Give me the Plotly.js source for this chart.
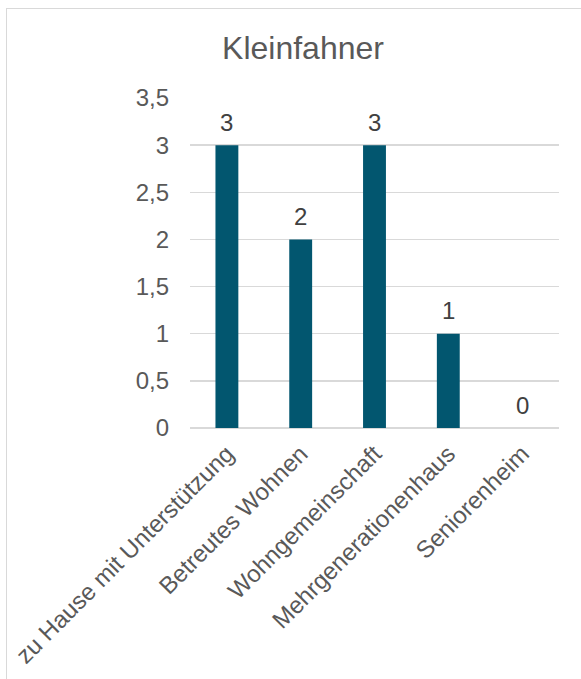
<!DOCTYPE html>
<html>
<head>
<meta charset="utf-8">
<script src="https://cdn.plot.ly/plotly-3.0.1.min.js"></script>
<style>
  html, body { margin: 0; padding: 0; background: #ffffff; }
  #frame { position: absolute; left: 6px; top: 8px; width: 700px; height: 800px;
           border-left: 1.5px solid #d9d9d9; border-top: 1.5px solid #d9d9d9; }
  #chart { position: absolute; left: 0; top: 0; width: 581px; height: 679px; }
</style>
</head>
<body>
<div id="frame"></div>
<div id="chart"></div>
<script>
const chartTitle = "Kleinfahner";
const categories = ["zu Hause mit Unterstützung", "Betreutes Wohnen", "Wohngemeinschaft", "Mehrgenerationenhaus", "Seniorenheim"];
const values = [3, 2, 3, 1, 0];
const yTickVals = [0, 0.5, 1, 1.5, 2, 2.5, 3, 3.5];

const fontFamily = "Liberation Sans, Arial, sans-serif";

const trace = {
  type: "bar",
  x: categories,
  y: values,
  marker: { color: "#02566F" },
  width: 0.31,
  hoverinfo: "skip"
};

const annotations = categories.map((c, i) => ({
  x: c, y: values[i], xref: "x", yref: "y",
  text: String(values[i]),
  showarrow: false,
  yanchor: "middle",
  yshift: 23,
  font: { family: fontFamily, size: 24, color: "#404040" }
}));

const layout = {
  width: 581, height: 679,
  paper_bgcolor: "rgba(0,0,0,0)",
  plot_bgcolor: "rgba(0,0,0,0)",
  margin: { l: 190, r: 22, t: 98, b: 251 },
  separators: ",.",
  showlegend: false,
  title: {
    text: chartTitle,
    x: 303 / 581, xref: "container", xanchor: "center",
    y: 1 - 48 / 679, yref: "container", yanchor: "middle",
    font: { family: fontFamily, size: 32, color: "#595959" }
  },
  xaxis: {
    type: "category",
    tickangle: -45,
    showgrid: false,
    showline: false,
    ticks: "",
    ticklabelstandoff: 6,
    tickfont: { family: fontFamily, size: 24, color: "#595959" },
    automargin: false
  },
  yaxis: {
    range: [0, 3.5],
    tickvals: yTickVals,
    showgrid: true,
    gridcolor: "#d9d9d9",
    gridwidth: 1.5,
    zeroline: true,
    zerolinecolor: "#d9d9d9",
    zerolinewidth: 1.5,
    showline: false,
    ticks: "",
    ticklabelstandoff: 20,
    tickfont: { family: fontFamily, size: 24, color: "#595959" },
    automargin: false
  },
  annotations: annotations
};

Plotly.newPlot("chart", [trace], layout, { staticPlot: true, displayModeBar: false });
</script>
</body>
</html>
